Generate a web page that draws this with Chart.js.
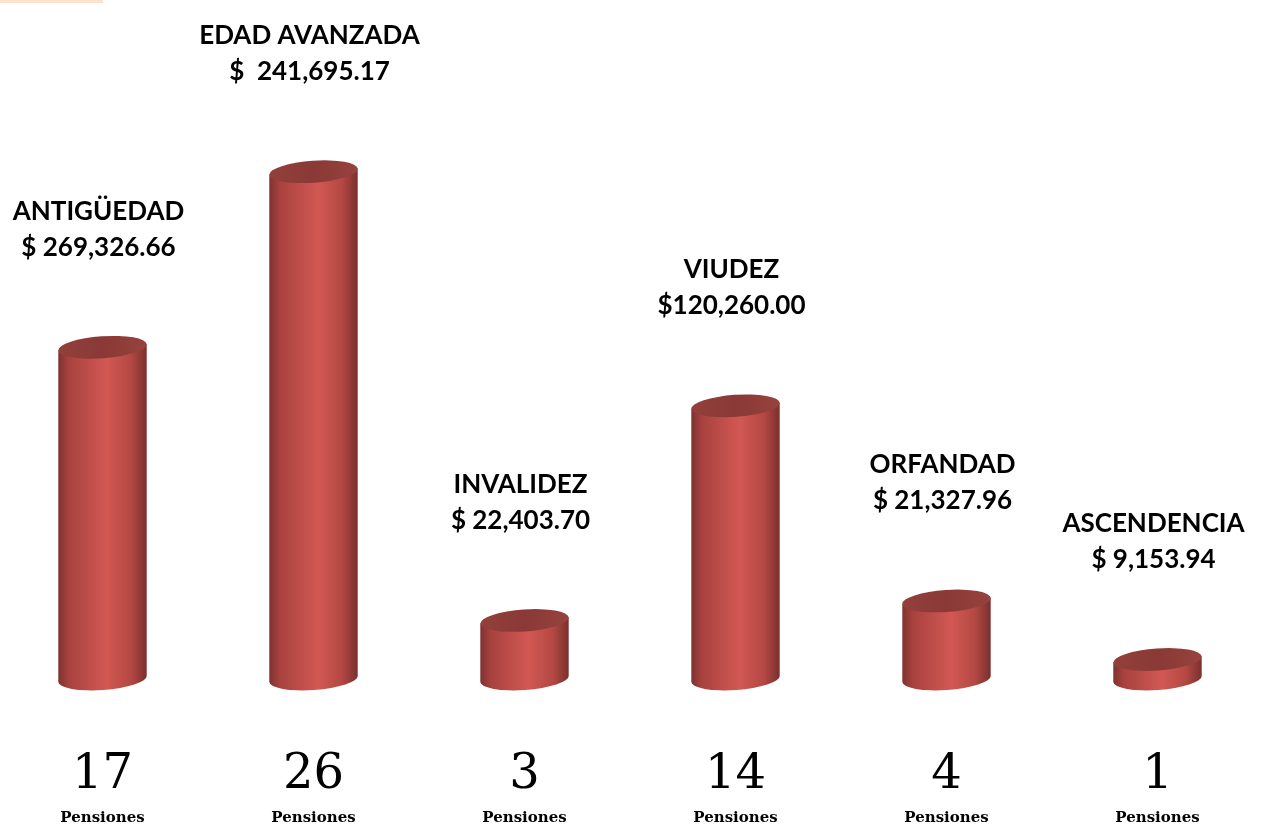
<!doctype html>
<html lang="es">
<head>
<meta charset="utf-8">
<title>Pensiones</title>
<script src="https://cdn.jsdelivr.net/npm/chart.js"></script>
<style>
  html,body{margin:0;padding:0;background:#fff;overflow:hidden}
  .wrap{position:relative;width:1276px;height:829px;overflow:hidden}
  #c{position:absolute;left:-3px;top:0}
  .mark{position:absolute;left:0;top:0;width:103px;height:3px;background:#fbe3cc;z-index:1}
</style>
</head>
<body>
<div class="wrap">
  <div class="mark"></div>
  <canvas id="c" width="1276" height="829"></canvas>
</div>
<script>
// data
const categories = ['ANTIGÜEDAD', 'EDAD AVANZADA', 'INVALIDEZ', 'VIUDEZ', 'ORFANDAD', 'ASCENDENCIA'];
const amounts = ['$ 269,326.66', '$  241,695.17', '$ 22,403.70', '$120,260.00', '$ 21,327.96', '$ 9,153.94'];
const pensiones = [17, 26, 3, 14, 4, 1];
const unitLabel = 'Pensiones';

const cylinderPlugin = {
  id: 'cylinders',
  afterDatasetsDraw(chart) {
    const ctx = chart.ctx;
    const meta = chart.getDatasetMeta(0);
    const rot = -0.07;
    meta.data.forEach((bar, i) => {
      const x = bar.x, top = bar.y, base = bar.base;
      const rx = bar.width / 2, ry = 11;
      const cx = Math.cos(rot) * rx, cy = Math.sin(rot) * rx;
      ctx.save();
      // body
      const g = ctx.createLinearGradient(x - rx, 0, x + rx, 0);
      g.addColorStop(0, '#7e3230');
      g.addColorStop(0.12, '#a8423e');
      g.addColorStop(0.55, '#d25853');
      g.addColorStop(0.82, '#b44843');
      g.addColorStop(1, '#7a302e');
      ctx.beginPath();
      ctx.moveTo(x - cx, top - cy);
      ctx.lineTo(x - cx, base - cy);
      ctx.ellipse(x, base, rx, ry, rot, Math.PI, 0, true);
      ctx.lineTo(x + cx, top + cy);
      ctx.closePath();
      ctx.fillStyle = g;
      ctx.fill();
      // top cap
      const gt = ctx.createLinearGradient(x - rx, 0, x + rx, 0);
      gt.addColorStop(0, '#93403c');
      gt.addColorStop(0.5, '#8a3936');
      gt.addColorStop(1, '#97423e');
      ctx.beginPath();
      ctx.ellipse(x, top, rx, ry, rot, 0, Math.PI * 2);
      ctx.fillStyle = gt;
      ctx.fill();

      // labels above
      ctx.fillStyle = '#000';
      ctx.textAlign = 'center';
      ctx.textBaseline = 'middle';
      ctx.font = 'bold 26px Lato, "Open Sans", sans-serif';
      ctx.fillText(amounts[i], x - 4, top - 100);
      ctx.fillText(categories[i], x - 4, top - 136);

      // counts below
      ctx.font = '48px "DejaVu Serif", "Liberation Serif", serif';
      ctx.textBaseline = 'alphabetic';
      ctx.fillText(String(pensiones[i]), x, 788);
      ctx.font = 'bold 15px "DejaVu Serif", "Liberation Serif", serif';
      ctx.fillText(unitLabel, x, 822);
      ctx.restore();
    });
  }
};

new Chart(document.getElementById('c'), {
  type: 'bar',
  data: {
    labels: categories,
    datasets: [{
      data: pensiones,
      backgroundColor: 'rgba(0,0,0,0)',
      borderWidth: 0,
      categoryPercentage: 1,
      barPercentage: 0.42
    }]
  },
  options: {
    responsive: false,
    animation: false,
    layout: { padding: { left: 0, right: 10, top: 0, bottom: 150 } },
    plugins: { legend: { display: false }, tooltip: { enabled: false } },
    scales: {
      x: { display: false },
      y: { display: false, min: 0, max: 34.8 }
    }
  },
  plugins: [cylinderPlugin]
});
</script>
</body>
</html>
